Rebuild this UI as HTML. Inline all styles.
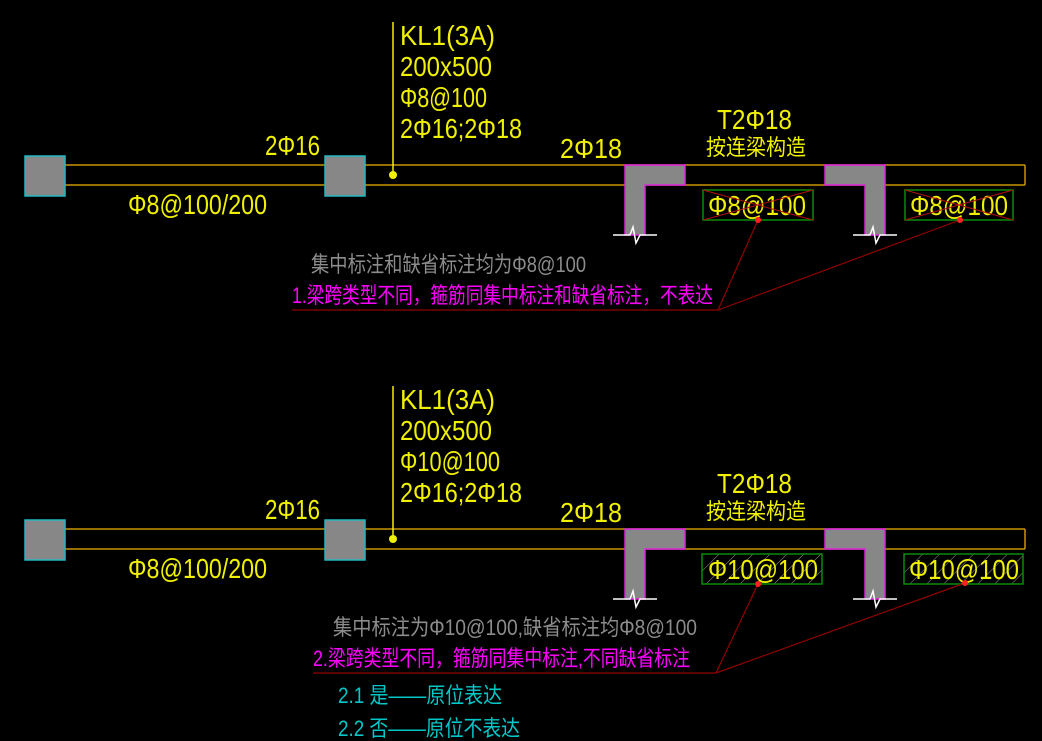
<!DOCTYPE html>
<html><head><meta charset="utf-8"><style>
html,body{margin:0;padding:0;background:#000;}
svg{display:block;}
text{font-family:"Liberation Sans","Noto Sans CJK SC",sans-serif;font-size:28px;}
.y{fill:#f0f000}
.g{fill:#8c8c8c}
.m{fill:#ff00ff}
.c{fill:#00c8c8}
</style></head><body>
<svg width="1042" height="741" viewBox="0 0 1042 741" xmlns="http://www.w3.org/2000/svg">
<defs>
<pattern id="h" width="12" height="12" patternUnits="userSpaceOnUse" patternTransform="rotate(45)">
<line x1="0" y1="0" x2="0" y2="12" stroke="#9a9a9a" stroke-width="1"/>
</pattern>
<g id="frame">
  <line x1="65" y1="165" x2="1025" y2="165" stroke="#c89600" stroke-width="1.5"/>
  <line x1="65" y1="185" x2="1025" y2="185" stroke="#c89600" stroke-width="1.5"/>
  <line x1="1025" y1="165" x2="1025" y2="185" stroke="#c89600" stroke-width="1.5"/>
  <rect x="25" y="156" width="40" height="40" fill="#878787" stroke="#20b8c0" stroke-width="1.5"/>
  <rect x="325" y="156" width="40" height="40" fill="#878787" stroke="#20b8c0" stroke-width="1.5"/>
  <path d="M625 165 H685 V185 H645 V235 H625 Z" fill="#878787" stroke="#e020e0" stroke-width="1.5"/>
  <path d="M825 165 H885 V235 H865 V185 H825 Z" fill="#878787" stroke="#e020e0" stroke-width="1.5"/>
  <path d="M613 235 H630 L633 227 L636 243 L640 235 H657" fill="none" stroke="#fff" stroke-width="1.5"/>
  <path d="M853 235 H870 L873 227 L876 243 L880 235 H897" fill="none" stroke="#fff" stroke-width="1.5"/>
  <line x1="393" y1="22" x2="393" y2="175" stroke="#f0f000" stroke-width="1.5"/>
  <circle cx="393" cy="175" r="4" fill="#f0f000"/>
  <text class="y" x="400" y="45" textLength="95" lengthAdjust="spacingAndGlyphs">KL1(3A)</text>
  <text class="y" x="400" y="76" textLength="92" lengthAdjust="spacingAndGlyphs">200x500</text>
  <text class="y" x="400" y="138" textLength="122" lengthAdjust="spacingAndGlyphs">2Φ16;2Φ18</text>
  <text class="y" x="265" y="155" textLength="55" lengthAdjust="spacingAndGlyphs">2Φ16</text>
  <text class="y" x="128" y="214" textLength="139" lengthAdjust="spacingAndGlyphs">Φ8@100/200</text>
  <text class="y" x="560" y="158" textLength="62" lengthAdjust="spacingAndGlyphs">2Φ18</text>
  <text class="y" x="717" y="129" textLength="75" lengthAdjust="spacingAndGlyphs">T2Φ18</text>
  <text class="y" x="706" y="155" textLength="100" lengthAdjust="spacingAndGlyphs" style="font-size:22px">按连梁构造</text>
</g>
</defs>

<use href="#frame"/>
<text class="y" x="400" y="107" textLength="87" lengthAdjust="spacingAndGlyphs">Φ8@100</text>
<rect x="703" y="190" width="110" height="30" fill="none" stroke="#0a8a0a" stroke-width="1.5"/>
<rect x="905" y="190" width="108" height="30" fill="none" stroke="#0a8a0a" stroke-width="1.5"/>
<text class="y" x="708" y="215" textLength="98" lengthAdjust="spacingAndGlyphs">Φ8@100</text>
<text class="y" x="910" y="215" textLength="98" lengthAdjust="spacingAndGlyphs">Φ8@100</text>
<line x1="703" y1="190" x2="813" y2="220" stroke="#b01010" stroke-width="1"/>
<line x1="703" y1="220" x2="813" y2="190" stroke="#b01010" stroke-width="1"/>
<line x1="905" y1="190" x2="1013" y2="220" stroke="#b01010" stroke-width="1"/>
<line x1="905" y1="220" x2="1013" y2="190" stroke="#b01010" stroke-width="1"/>
<text class="g" x="311" y="272" textLength="275" lengthAdjust="spacingAndGlyphs" style="font-size:22px">集中标注和缺省标注均为Φ8@100</text>
<text class="m" x="292" y="303" textLength="421" lengthAdjust="spacingAndGlyphs" style="font-size:22px">1.梁跨类型不同，箍筋同集中标注和缺省标注，不表达</text>
<polyline points="292,310 718,310 758,220" fill="none" stroke="#900000" stroke-width="1.2"/>
<line x1="718" y1="310" x2="960" y2="220" stroke="#900000" stroke-width="1.2"/>
<circle cx="758" cy="220" r="3" fill="#ff2020"/>
<circle cx="960" cy="220" r="3" fill="#ff2020"/>

<g transform="translate(0,364)"><use href="#frame"/></g>
<text class="y" x="400" y="471" textLength="100" lengthAdjust="spacingAndGlyphs">Φ10@100</text>
<rect x="702" y="554" width="120" height="30" fill="url(#h)" stroke="#0a8a0a" stroke-width="1.5"/>
<rect x="904" y="554" width="119" height="30" fill="url(#h)" stroke="#0a8a0a" stroke-width="1.5"/>
<text class="y" x="708" y="579" textLength="110" lengthAdjust="spacingAndGlyphs">Φ10@100</text>
<text class="y" x="909" y="579" textLength="110" lengthAdjust="spacingAndGlyphs">Φ10@100</text>
<text class="g" x="333" y="635" textLength="364" lengthAdjust="spacingAndGlyphs" style="font-size:22px">集中标注为Φ10@100,缺省标注均Φ8@100</text>
<text class="m" x="313" y="666" textLength="377" lengthAdjust="spacingAndGlyphs" style="font-size:22px">2.梁跨类型不同，箍筋同集中标注,不同缺省标注</text>
<polyline points="313,673 716,673 758,584" fill="none" stroke="#900000" stroke-width="1.2"/>
<line x1="716" y1="673" x2="965" y2="583" stroke="#900000" stroke-width="1.2"/>
<circle cx="758" cy="584" r="3" fill="#ff2020"/>
<circle cx="965" cy="583" r="3" fill="#ff2020"/>
<text class="c" x="338" y="703" textLength="164" lengthAdjust="spacingAndGlyphs" style="font-size:22px">2.1 是——原位表达</text>
<text class="c" x="338" y="736" textLength="182" lengthAdjust="spacingAndGlyphs" style="font-size:22px">2.2 否——原位不表达</text>
</svg>
</body></html>
